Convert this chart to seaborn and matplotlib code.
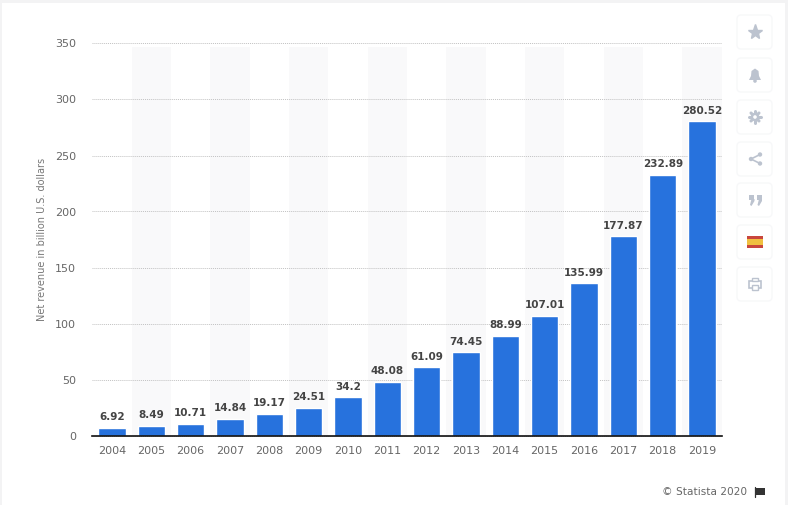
#!/usr/bin/env python3
import matplotlib
matplotlib.use('Agg')
import matplotlib.pyplot as plt
from matplotlib.patches import FancyBboxPatch, Rectangle, Circle, Polygon
import pandas as pd
import seaborn as sns

years = ['2004', '2005', '2006', '2007', '2008', '2009', '2010', '2011',
         '2012', '2013', '2014', '2015', '2016', '2017', '2018', '2019']
revenue = [6.92, 8.49, 10.71, 14.84, 19.17, 24.51, 34.2, 48.08,
           61.09, 74.45, 88.99, 107.01, 135.99, 177.87, 232.89, 280.52]
revenue_labels = ['6.92', '8.49', '10.71', '14.84', '19.17', '24.51', '34.2', '48.08',
                  '61.09', '74.45', '88.99', '107.01', '135.99', '177.87', '232.89', '280.52']
y_ticks = [0, 50, 100, 150, 200, 250, 300, 350]

W, H = 788, 505
BLUE = '#2772dd'
ICON = '#bcc3cf'

sns.set_theme(style='white')
plt.rcParams['font.family'] = ['DejaVu Sans']

df = pd.DataFrame({'year': years, 'revenue': revenue})

fig = plt.figure(figsize=(W / 100, H / 100), dpi=100, facecolor='#f3f3f4')

# pixel-coordinate layer for the card and the side buttons
bg = fig.add_axes([0, 0, 1, 1], zorder=0)
bg.set_xlim(0, W)
bg.set_ylim(H, 0)
bg.axis('off')
bg.add_patch(Rectangle((2, 3), 783, 502, fc='white', ec='none'))

ax = fig.add_axes([92.3 / W, (H - 435.5) / H, 629.4 / W, 392 / H], zorder=1)
ax.patch.set_alpha(0)

# alternating column bands
for i in range(1, len(years), 2):
    ax.axvspan(i - 0.5, i + 0.5, ymax=0.99, color='#f9f9fa', lw=0, zorder=0)

sns.barplot(data=df, x='year', y='revenue', color=BLUE, saturation=1,
            width=0.69, ax=ax, zorder=3)

ax.set_xlim(-0.5, len(years) - 0.5)
ax.set_ylim(0, 350)
ax.set_yticks(y_ticks)
ax.yaxis.grid(True, color='#c2c2c2', linestyle=(0, (1, 1)), linewidth=0.7, zorder=1)
for line in ax.yaxis.get_gridlines():
    line.set_clip_on(False)
ax.set_axisbelow(True)
sns.despine(ax=ax, left=True)
ax.spines['bottom'].set_color('#111111')
ax.spines['bottom'].set_linewidth(1.2)
ax.spines['bottom'].set_zorder(5)
ax.tick_params(axis='both', length=0, labelsize=8, labelcolor='#666666')
ax.tick_params(axis='x', pad=7.5)
ax.tick_params(axis='y', pad=11.5)
ax.set_xlabel('')
ax.set_ylabel('Net revenue in billion U.S. dollars', fontsize=7, color='#777777')
ax.yaxis.set_label_coords(-0.072, 0.5)

for i, (v, lab) in enumerate(zip(revenue, revenue_labels)):
    ax.annotate(lab, (i, v), xytext=(0, 4), textcoords='offset points', ha='center', va='bottom',
                fontsize=7.5, fontweight='bold', color='#444444', zorder=6)

# footer
bg.text(747, 492, '\u00a9 Statista 2020', fontsize=7.6, color='#666666', ha='right', va='center')
bg.add_patch(Rectangle((755.5, 488), 10, 6.5, fc='#333333', ec='none'))
bg.plot([755.5, 755.5], [487, 497], color='#333333', lw=0.9)

# side buttons
centers = [32, 75, 117, 159, 200, 242, 284]
for cy in centers:
    bg.add_patch(FancyBboxPatch((740, cy - 14), 29, 28, boxstyle='round,pad=3,rounding_size=4',
                                fc='white', ec='#f7f8f9', lw=1))

bg.plot([755], [32], marker='*', ms=11, color=ICON, mec=ICON)
# bell
bg.add_patch(Polygon([(749, 80), (751, 76), (751.5, 71), (755, 68.5), (758.5, 71), (759, 76), (761, 80)],
                     fc=ICON, ec='none'))
bg.add_patch(Circle((755, 81), 1.8, fc=ICON, ec='none'))
# gear
bg.plot([755, 755], [111, 123], color=ICON, lw=2.2)
bg.plot([749, 761], [117, 117], color=ICON, lw=2.2)
bg.plot([751, 759], [113, 121], color=ICON, lw=2.2)
bg.plot([751, 759], [121, 113], color=ICON, lw=2.2)
bg.add_patch(Circle((755, 117), 4.2, fc=ICON, ec='none', zorder=4))
bg.add_patch(Circle((755, 117), 1.8, fc='white', ec='none', zorder=5))
# share
bg.plot([751, 760], [159, 154.5], color=ICON, lw=1.2)
bg.plot([751, 760], [159, 163.5], color=ICON, lw=1.2)
for px, py in [(751, 159), (760, 154.5), (760, 163.5)]:
    bg.add_patch(Circle((px, py), 2.2, fc=ICON, ec='none'))
# quote
for qx in [749.5, 757]:
    bg.add_patch(Rectangle((qx, 195), 5, 5, fc=ICON, ec='none'))
    bg.add_patch(Polygon([(qx + 5, 199), (qx + 5, 201), (qx + 2, 206), (qx + 0.5, 205), (qx + 2, 199)],
                         fc=ICON, ec='none'))
# flag
bg.add_patch(Rectangle((747, 236), 16, 12, fc='#c9463d', ec='none'))
bg.add_patch(Rectangle((747, 239), 16, 6, fc='#f0c040', ec='none'))
# printer
bg.add_patch(Rectangle((749, 281), 12, 7, fc='white', ec=ICON, lw=1.2))
bg.add_patch(Rectangle((752, 278), 6, 3, fc='white', ec=ICON, lw=1))
bg.add_patch(Rectangle((752, 285), 6, 5, fc='white', ec=ICON, lw=1))

fig.savefig('out.png', dpi=100, facecolor=fig.get_facecolor())
